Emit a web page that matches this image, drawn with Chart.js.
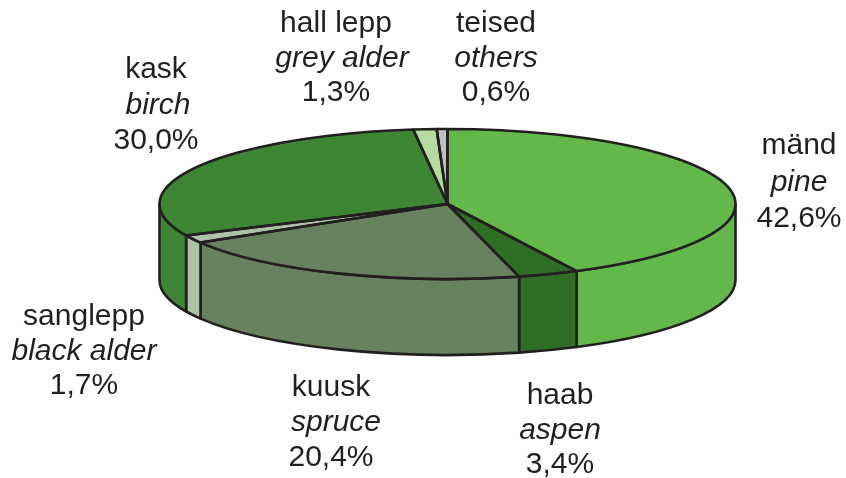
<!DOCTYPE html>
<html><head><meta charset="utf-8">
<style>html,body{margin:0;padding:0;background:#fff}#w{width:846px;height:478px;position:relative}</style>
<script src="https://cdn.jsdelivr.net/npm/chart.js@4"></script>
</head><body><div id="w"><canvas id="c" width="846" height="478"></canvas></div>
<script>
const namesEt = ['mänd','haab','kuusk','sanglepp','kask','hall lepp','teised'];
const namesEn = ['pine','aspen','spruce','black alder','birch','grey alder','others'];
const percents = [42.6,3.4,20.4,1.7,30.0,1.3,0.6];
const percentLabels = ['42,6%','3,4%','20,4%','1,7%','30,0%','1,3%','0,6%'];
const colors = ['#62B94A','#2E6E25','#67825F','#AEC2A8','#3D8633','#B5DB9F','#BFC0C4'];
const labelX = [799,560,331,84,156,336,496];
const labelY = [154,404,396,325,78,32,32];
const lineStep = [36.5,34.5,35,34.5,35.5,34.5,34.5];
const italicShift = [0,0,5,0,2,6,0];

const LINE='#231F20', RX=288, SQUASH=75/288, DEPTH=76, LW=2.6;

function geom(a){return {cx:a.x,cy:a.y,s:a.startAngle,e:a.endAngle};}
const pie3d={
 id:'pie3d',
 beforeDatasetsDraw(chart){
  const ctx=chart.ctx, arcs=chart.getDatasetMeta(0).data;
  const ry=RX*SQUASH;
  ctx.save();
  ctx.lineWidth=LW; ctx.strokeStyle=LINE; ctx.lineJoin='round';
  arcs.forEach((a,i)=>{
   const g=geom(a), p=Math.max(g.s,0), q=Math.min(g.e,Math.PI);
   if(q<=p) return;
   ctx.beginPath();
   ctx.ellipse(g.cx,g.cy+DEPTH,RX,ry,0,p,q,false);
   ctx.ellipse(g.cx,g.cy,RX,ry,0,q,p,true);
   ctx.closePath();
   ctx.fillStyle=colors[i]; ctx.fill(); ctx.stroke();
  });
  ctx.restore();
  const a0=arcs[0];
  ctx.save();
  ctx.translate(a0.x,a0.y); ctx.scale(1,SQUASH); ctx.translate(-a0.x,-a0.y);
 },
 afterDatasetsDraw(chart){
  const ctx=chart.ctx, arcs=chart.getDatasetMeta(0).data;
  ctx.restore();
  const ry=RX*SQUASH;
  ctx.save();
  ctx.lineWidth=LW; ctx.strokeStyle=LINE; ctx.lineJoin='round';
  arcs.forEach(a=>{
   const g=geom(a);
   ctx.beginPath(); ctx.moveTo(g.cx,g.cy);
   ctx.ellipse(g.cx,g.cy,RX,ry,0,g.s,g.e,false);
   ctx.closePath(); ctx.stroke();
  });
  ctx.restore();
  ctx.save();
  ctx.fillStyle=LINE; ctx.textAlign='center'; ctx.textBaseline='alphabetic';
  namesEt.forEach((n,i)=>{
   ctx.font='30px "Liberation Sans"'; ctx.fillText(n,labelX[i],labelY[i]);
   ctx.font='italic 30px "Liberation Sans"'; ctx.fillText(namesEn[i],labelX[i]+italicShift[i],labelY[i]+lineStep[i]);
   ctx.font='30px "Liberation Sans"'; ctx.fillText(percentLabels[i],labelX[i],labelY[i]+2*lineStep[i]);
  });
  ctx.restore();
 }
};
new Chart(document.getElementById('c'),{
 type:'pie',
 data:{labels:namesEt,datasets:[{data:percents,backgroundColor:colors,borderWidth:0,radius:RX,clip:false}]},
 options:{responsive:false,animation:false,
  layout:{padding:{left:49,right:0,top:0,bottom:70}},
  plugins:{legend:{display:false},tooltip:{enabled:false}}},
 plugins:[pie3d]
});
</script></body></html>
